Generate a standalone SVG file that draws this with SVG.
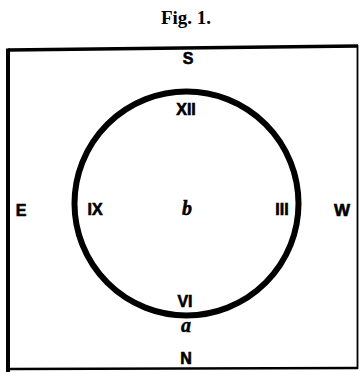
<svg xmlns="http://www.w3.org/2000/svg" width="360" height="372" viewBox="0 0 360 372">
<style>
.lbl{font-family:"Liberation Sans",Arial,sans-serif;font-weight:bold;fill:#000;stroke:#000;stroke-width:0.6;text-anchor:middle}
.it{font-family:"Liberation Serif","Times New Roman",serif;font-weight:bold;font-style:italic;fill:#000;stroke:#000;stroke-width:0.5;text-anchor:middle}
.title{font-family:"Liberation Serif","Times New Roman",serif;font-weight:bold;fill:#000;text-anchor:middle}
</style>
<rect width="360" height="372" fill="#fff"/>
<text class="title" x="186" y="24" font-size="19">Fig. 1.</text>
<g id="frame">
<path d="M8,50 L358,46" stroke="#000" stroke-width="3.5" fill="none"/>
<path d="M8,48.5 L8,372" stroke="#000" stroke-width="4" fill="none"/>
<path d="M357.5,45 L357.5,369" stroke="#000" stroke-width="1.8" fill="none"/>
<path d="M8,369 L358,368" stroke="#000" stroke-width="2.5" fill="none"/>
</g>
<g id="dial">
<circle cx="186.5" cy="203.5" r="112" fill="none" stroke="#000" stroke-width="6"/>
</g>
<g id="labels">
<text class="lbl" x="188" y="64" font-size="16">S</text>
<text class="lbl" x="186" y="115" font-size="16">XII</text>
<text class="lbl" x="95" y="215" font-size="16">IX</text>
<text class="lbl" x="282" y="215" font-size="16">III</text>
<text class="lbl" x="21" y="216" font-size="16">E</text>
<text class="lbl" x="342" y="216" font-size="17">W</text>
<text class="it" x="187" y="215" font-size="20">b</text>
<text class="lbl" x="185" y="307" font-size="16">VI</text>
<text class="it" x="186" y="332" font-size="20">a</text>
<text class="lbl" x="186" y="364" font-size="16">N</text>
</g>
</svg>
